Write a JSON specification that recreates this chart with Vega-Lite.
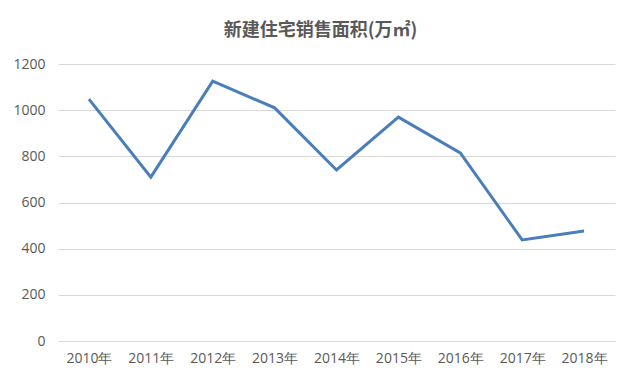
{
  "$schema": "https://vega.github.io/schema/vega-lite/v6.json",
  "width": 557,
  "height": 277,
  "autosize": {"type": "none"},
  "padding": {"left": 58, "top": 64, "right": 25, "bottom": 44},
  "background": "white",
  "title": {
    "text": "新建住宅销售面积(万㎡)",
    "anchor": "middle",
    "dx": -16,
    "offset": 17,
    "fontSize": 18,
    "font": "Noto Sans CJK SC",
    "fontWeight": "bold",
    "color": "#595959"
  },
  "config": {
    "view": {"stroke": null},
    "axis": {
      "labelFont": "Open Sans",
      "labelFontSize": 14,
      "labelColor": "#595959",
      "gridColor": "#d9d9d9",
      "ticks": false
    }
  },
  "data": {
    "values": [
      {"year": "2010年", "value": 1048},
      {"year": "2011年", "value": 710},
      {"year": "2012年", "value": 1126},
      {"year": "2013年", "value": 1010},
      {"year": "2014年", "value": 741},
      {"year": "2015年", "value": 970},
      {"year": "2016年", "value": 815},
      {"year": "2017年", "value": 438},
      {"year": "2018年", "value": 477}
    ]
  },
  "mark": {"type": "line", "color": "#4a7ebb", "strokeWidth": 3},
  "encoding": {
    "x": {
      "field": "year",
      "type": "ordinal",
      "sort": null,
      "scale": {"paddingInner": 0, "paddingOuter": 0.5},
      "axis": {"title": null, "labelAngle": 0, "domainColor": "#d9d9d9", "labelPadding": 10, "grid": false}
    },
    "y": {
      "field": "value",
      "type": "quantitative",
      "scale": {"domain": [0, 1200]},
      "axis": {"title": null, "format": "d", "values": [0, 200, 400, 600, 800, 1000, 1200], "domain": false, "labelPadding": 13}
    }
  }
}
